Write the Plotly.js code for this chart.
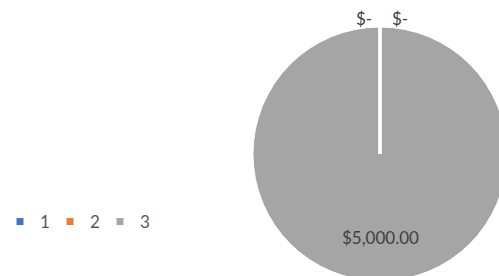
<!DOCTYPE html>
<html>
<head>
<meta charset="utf-8">
<script src="https://cdn.plot.ly/plotly-3.0.1.min.js"></script>
<style>
html,body{margin:0;padding:0;overflow:hidden;background:#fff;}
#chart{width:510px;height:284px;}
</style>
</head>
<body>
<div id="chart"></div>
<script>
const categories = ['1', '2', '3'];
const values = [0, 0, 5000];
const colors = ['#4472C4', '#ED7D31', '#A5A5A5'];

function fmt(v) {
  if (v === 0) return '$-';
  return '$' + v.toLocaleString('en-US', {minimumFractionDigits: 2, maximumFractionDigits: 2});
}
const labelsText = values.map(fmt);

const W = 510, H = 284;
// pie geometry (pixels)
const CX = 380, CY = 154, R = 127;
const px = x => x / W;
const py = y => 1 - y / H;

const pie = {
  type: 'pie',
  labels: categories,
  values: values,
  textinfo: 'none',
  sort: false,
  direction: 'clockwise',
  rotation: 0,
  marker: {colors: colors, line: {color: '#FFFFFF', width: 1}},
  domain: {x: [px(CX - R), px(CX + R)], y: [py(CY + R), py(CY - R)]},
  automargin: false,
  showlegend: false,
  hoverinfo: 'none'
};

// legend-only entries with small square markers
const legendTraces = categories.map((c, i) => ({
  type: 'scatter', mode: 'markers', x: [null], y: [null], name: c,
  marker: {symbol: 'square', size: 7, color: colors[i]},
  hoverinfo: 'none', showlegend: true
}));

// data labels placed at each slice's mid angle
const total = values.reduce((a, b) => a + b, 0);
let cum = 0;
const annotations = [];
const shapes = [];
values.forEach((v, i) => {
  const a0 = cum / total * 2 * Math.PI;
  cum += v;
  const a1 = cum / total * 2 * Math.PI;
  const mid = (a0 + a1) / 2;
  if (v === 0) {
    const rr = R + 9;
    annotations.push({
      xref: 'paper', yref: 'paper',
      x: px(CX + rr * Math.sin(mid) + (i === 0 ? -6 : 10)),
      y: py(CY - rr * Math.cos(mid)),
      xanchor: i === 0 ? 'right' : 'left', yanchor: 'middle',
      text: labelsText[i], showarrow: false,
      font: {family: 'Lato, sans-serif', size: 17, color: '#404040'}
    });
  } else {
    const rr = R * 0.66;
    annotations.push({
      xref: 'paper', yref: 'paper',
      x: px(CX + rr * Math.sin(mid)), y: py(CY - rr * Math.cos(mid)),
      xanchor: 'center', yanchor: 'middle',
      text: labelsText[i], showarrow: false,
      font: {family: 'Lato, sans-serif', size: 17, color: '#404040'}
    });
  }
  // slice boundary line (white border)
  shapes.push({
    type: 'line', xref: 'paper', yref: 'paper', layer: 'above',
    x0: px(CX), y0: py(CY),
    x1: px(CX + (R + 2) * Math.sin(a0)), y1: py(CY - (R + 2) * Math.cos(a0)),
    line: {color: '#FFFFFF', width: 3}
  });
});

const layout = {
  width: W, height: H,
  margin: {l: 0, r: 0, t: 0, b: 0},
  paper_bgcolor: '#FFFFFF',
  plot_bgcolor: 'rgba(0,0,0,0)',
  xaxis: {visible: false, domain: [0, 0.01]},
  yaxis: {visible: false, domain: [0, 0.01]},
  font: {family: 'Lato, sans-serif', size: 17, color: '#595959'},
  showlegend: true,
  legend: {
    orientation: 'h',
    x: 0, xanchor: 'left',
    y: py(222), yanchor: 'middle',
    font: {family: 'Lato, sans-serif', size: 17, color: '#595959'},
    itemwidth: 30,
    entrywidth: 5,
    entrywidthmode: 'pixels',
    traceorder: 'normal'
  },
  annotations: annotations,
  shapes: shapes
};

Plotly.newPlot('chart', legendTraces.concat([pie]), layout, {displayModeBar: false, staticPlot: true});
</script>
</body>
</html>
